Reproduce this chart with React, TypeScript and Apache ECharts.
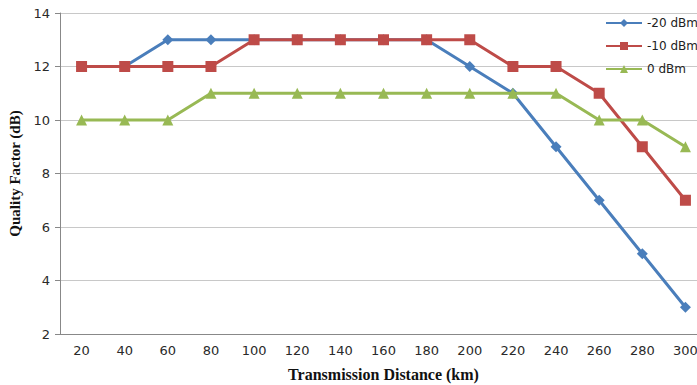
import React, { useEffect, useRef } from "react";
import * as echarts from "echarts";

const categories = ["20", "40", "60", "80", "100", "120", "140", "160", "180", "200", "220", "240", "260", "280", "300"];
const seriesNames = ["-20 dBm", "-10 dBm", "0 dBm"];
const dbm20 = [12, 12, 13, 13, 13, 13, 13, 13, 13, 12, 11, 9, 7, 5, 3];
const dbm10 = [12, 12, 12, 12, 13, 13, 13, 13, 13, 13, 12, 12, 11, 9, 7];
const dbm0 = [10, 10, 10, 11, 11, 11, 11, 11, 11, 11, 11, 11, 10, 10, 9];

export default function App() {
  const ref = useRef<HTMLDivElement>(null);
  useEffect(() => {
    const chart = echarts.init(ref.current!, null, { renderer: "svg" });
    const labelFont = { fontFamily: "DejaVu Sans, Verdana, sans-serif", fontSize: 13, color: "#2a2a2a" };
    chart.setOption({
      animation: false,
      backgroundColor: "#fff",
      grid: { left: 60, width: 647, top: 13, height: 321, containLabel: false, outerBoundsMode: "none" },
      legend: {
        orient: "vertical",
        left: 600,
        top: 12,
        itemWidth: 36,
        itemHeight: 10,
        itemGap: 11,
        textStyle: { fontFamily: "DejaVu Sans, Verdana, sans-serif", fontSize: 12, color: "#222" },
        data: seriesNames,
      },
      xAxis: {
        type: "category",
        data: categories,
        boundaryGap: true,
        name: "Transmission Distance (km)",
        nameLocation: "middle",
        nameGap: 32,
        nameTextStyle: { fontFamily: "Liberation Serif, Times New Roman, serif", fontWeight: "bold", fontSize: 16, color: "#111" },
        axisLine: { lineStyle: { color: "#888", width: 1 } },
        axisTick: { alignWithLabel: true, length: 5, lineStyle: { color: "#888" } },
        axisLabel: { ...labelFont, margin: 10 },
      },
      yAxis: {
        type: "value",
        min: 2,
        max: 14,
        interval: 2,
        name: "Quality Factor (dB)",
        nameLocation: "middle",
        nameRotate: 90,
        nameGap: 31,
        nameTextStyle: { fontFamily: "Liberation Serif, Times New Roman, serif", fontWeight: "bold", fontSize: 15, color: "#111" },
        axisLine: { show: true, lineStyle: { color: "#888", width: 1 } },
        axisTick: { show: true, length: 5, lineStyle: { color: "#888" } },
        axisLabel: { ...labelFont, margin: 10 },
        splitLine: { show: true, lineStyle: { color: "#c8c8c8", width: 1 } },
      },
      series: [
        {
          name: seriesNames[0],
          type: "line",
          data: dbm20,
          symbol: "diamond",
          symbolSize: 11,
          lineStyle: { color: "#4a7ebb", width: 3 },
          itemStyle: { color: "#4a7ebb" },
          z: 1,
        },
        {
          name: seriesNames[1],
          type: "line",
          data: dbm10,
          symbol: "rect",
          symbolSize: 11,
          lineStyle: { color: "#be4b48", width: 3 },
          itemStyle: { color: "#be4b48" },
          z: 2,
        },
        {
          name: seriesNames[2],
          type: "line",
          data: dbm0,
          symbol: "triangle",
          symbolSize: 11,
          lineStyle: { color: "#98b954", width: 3 },
          itemStyle: { color: "#98b954" },
          z: 3,
        },
      ],
    });
    return () => chart.dispose();
  }, []);
  return <div ref={ref} style={{ width: 697, height: 385, position: "absolute", left: 0, top: 0 }} />;
}
